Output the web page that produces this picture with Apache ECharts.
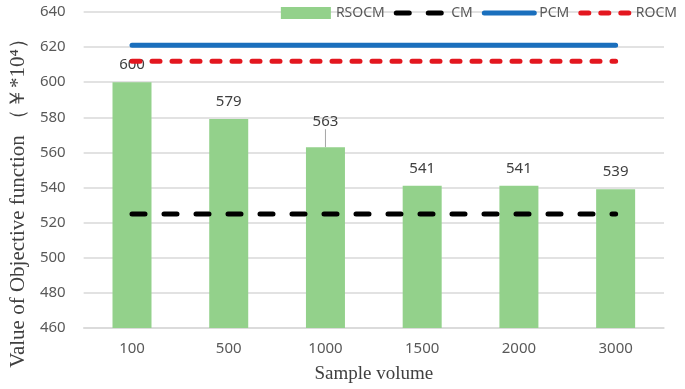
<!DOCTYPE html>
<html>
<head>
<meta charset="utf-8">
<script src="https://cdn.jsdelivr.net/npm/echarts@6/dist/echarts.min.js"></script>
<style>
  html, body { margin: 0; padding: 0; background: #fff; }
  #main { width: 685px; height: 389px; }
</style>
</head>
<body>
<div id="main"></div>
<script>
// values
var categories = ['100', '500', '1000', '1500', '2000', '3000'];
var rsocm = [600, 579, 563, 541, 541, 539];
var cm = [525, 525, 525, 525, 525, 525];
var pcm = [621, 621, 621, 621, 621, 621];
var rocm = [612, 612, 612, 612, 612, 612];

var tickColor = '#595959';
var serif = '"Liberation Serif", "Times New Roman", serif';

var cmLine = { color: '#000', width: 5, type: [13, 19], cap: 'round' };
var pcmLine = { color: '#1a6fbd', width: 5, cap: 'round' };
var rocmLine = { color: '#e3171f', width: 5, type: [8, 12], cap: 'round' };

// only the 1000 label is pushed up with a leader line
var barData = rsocm.map(function (v, i) {
  return i === 2 ? { value: v, labelLine: { show: true } } : { value: v };
});

// line legend entries: keep the line, hide the marker dot
var noDot = { color: 'transparent', borderColor: 'transparent', borderWidth: 0 };

var chart = echarts.init(document.getElementById('main'));

chart.setOption({
  animation: false,
  textStyle: { fontFamily: '"Noto Sans", sans-serif' },
  legend: {
    right: 3,
    top: 1,
    itemWidth: 50,
    itemHeight: 12,
    itemGap: 9,
    textStyle: { color: tickColor, fontSize: 14 },
    data: [
      { name: 'RSOCM', icon: 'rect' },
      { name: 'CM', itemStyle: noDot, lineStyle: { width: 5, type: [13, 19], cap: 'round' } },
      { name: 'PCM', itemStyle: noDot, lineStyle: { width: 5, cap: 'round' } },
      { name: 'ROCM', itemStyle: noDot, lineStyle: { width: 5, type: [8, 12], cap: 'round' } }
    ]
  },
  grid: {
    left: 74,
    right: 21,
    top: 12,
    bottom: 60
  },
  xAxis: {
    type: 'category',
    data: categories,
    name: 'Sample volume',
    nameLocation: 'middle',
    nameGap: 37,
    nameTextStyle: { fontFamily: serif, fontSize: 19, color: '#404040' },
    axisLine: { lineStyle: { color: '#d9d9d9', width: 1.5 } },
    axisTick: { show: false },
    axisLabel: { color: tickColor, fontSize: 15, margin: 13 }
  },
  yAxis: {
    type: 'value',
    min: 460,
    max: 640,
    interval: 20,
    name: 'Value of Objective function （￥*10⁴）',
    nameLocation: 'middle',
    nameGap: 50,
    nameTextStyle: { fontFamily: serif, fontSize: 21, color: '#404040', padding: [0, 56, 0, 0] },
    axisLine: { show: false },
    axisTick: { show: false },
    axisLabel: { color: tickColor, fontSize: 15, margin: 18 },
    splitLine: { lineStyle: { color: '#d9d9d9', width: 1.5 } }
  },
  series: [
    {
      name: 'RSOCM',
      type: 'bar',
      data: barData,
      barWidth: 39,
      itemStyle: { color: '#93d18b' },
      label: {
        show: true,
        position: 'top',
        distance: 10,
        color: '#404040',
        fontSize: 15
      },
      labelLayout: function (p) {
        return p.dataIndex === 2 ? { dy: -8 } : {};
      },
      labelLine: { show: false, lineStyle: { color: '#a6a6a6', width: 1 } }
    },
    {
      name: 'CM',
      type: 'line',
      data: cm,
      symbol: 'none',
      z: 5,
      lineStyle: cmLine
    },
    {
      name: 'PCM',
      type: 'line',
      data: pcm,
      symbol: 'none',
      z: 5,
      lineStyle: pcmLine
    },
    {
      name: 'ROCM',
      type: 'line',
      data: rocm,
      symbol: 'none',
      z: 5,
      lineStyle: rocmLine
    }
  ]
});
</script>
</body>
</html>
